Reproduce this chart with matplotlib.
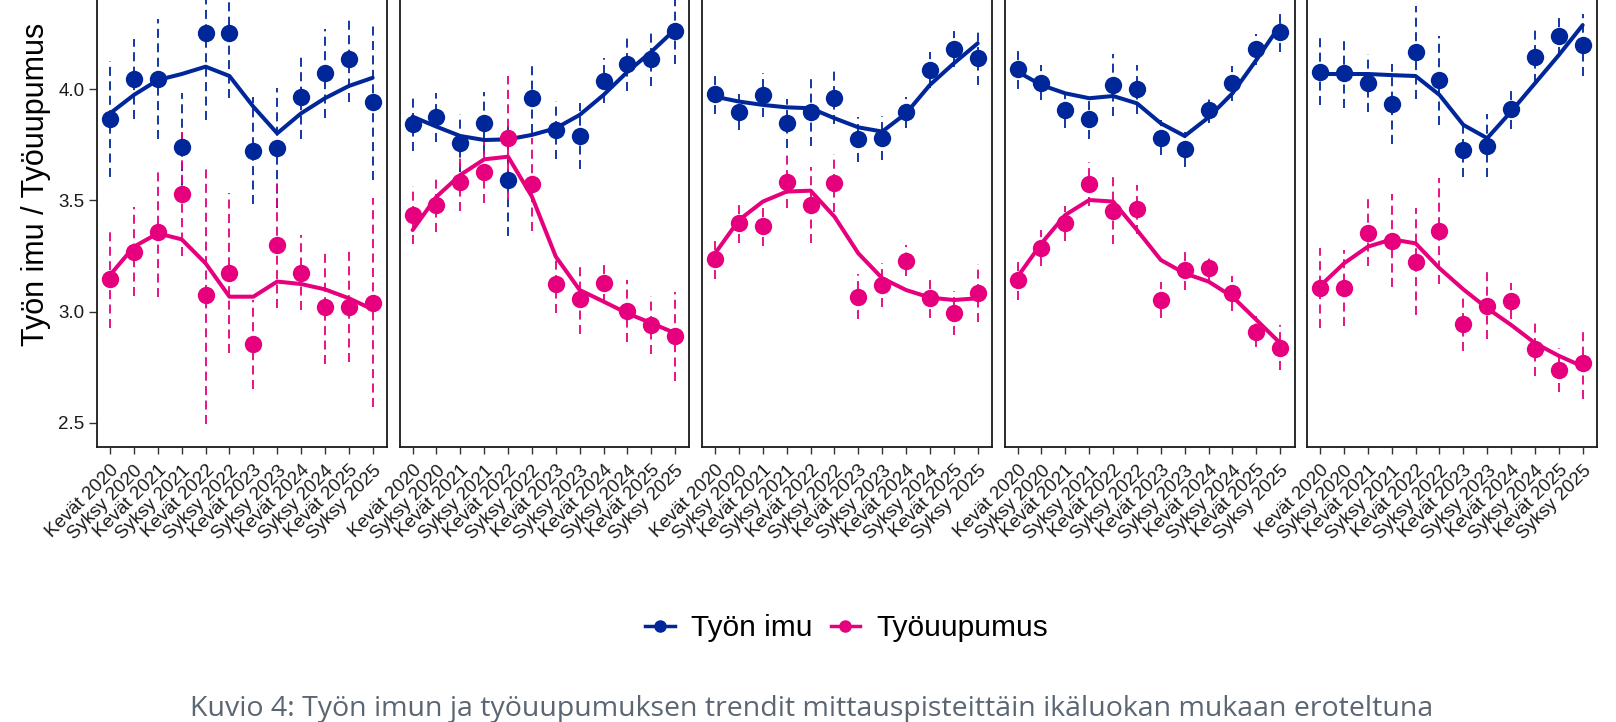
import numpy as np
import matplotlib
matplotlib.use("Agg")
import matplotlib.pyplot as plt
from matplotlib.lines import Line2D

plt.rcParams['font.family'] = ['Liberation Sans', 'DejaVu Sans']

# Mittauspisteet (x-akseli)
periods = ["Kevät 2020", "Syksy 2020", "Kevät 2021", "Syksy 2021",
           "Kevät 2022", "Syksy 2022", "Kevät 2023", "Syksy 2023",
           "Kevät 2024", "Syksy 2024", "Kevät 2025", "Syksy 2025"]

# Työn imu: keskiarvot, luottamusvälin puolileveys ja trendiviiva (5 ikäluokkaa)
imu_mean = [
    [3.867, 4.046, 4.046, 3.742, 4.252, 4.252, 3.724, 3.735, 3.967, 4.072, 4.135, 3.942],
    [3.843, 3.874, 3.757, 3.850, 3.592, 3.963, 3.817, 3.790, 4.039, 4.114, 4.136, 4.262],
    [3.978, 3.897, 3.975, 3.847, 3.897, 3.963, 3.775, 3.780, 3.897, 4.087, 4.181, 4.139],
    [4.090, 4.030, 3.907, 3.867, 4.019, 4.000, 3.783, 3.730, 3.907, 4.027, 4.181, 4.256],
    [4.079, 4.075, 4.027, 3.934, 4.166, 4.040, 3.727, 3.747, 3.912, 4.147, 4.241, 4.199],
]
imu_ci = [
    [0.26, 0.18, 0.27, 0.24, 0.39, 0.29, 0.24, 0.27, 0.19, 0.20, 0.19, 0.35],
    [0.12, 0.11, 0.13, 0.14, 0.25, 0.16, 0.13, 0.15, 0.10, 0.12, 0.12, 0.15],
    [0.09, 0.08, 0.10, 0.11, 0.15, 0.12, 0.10, 0.10, 0.07, 0.08, 0.08, 0.12],
    [0.09, 0.08, 0.08, 0.09, 0.14, 0.11, 0.08, 0.08, 0.06, 0.08, 0.07, 0.09],
    [0.15, 0.16, 0.13, 0.18, 0.21, 0.20, 0.12, 0.14, 0.09, 0.12, 0.09, 0.14],
]
imu_trend = [
    [3.892, 3.975, 4.042, 4.069, 4.102, 4.060, 3.922, 3.802, 3.892, 3.960, 4.015, 4.052],
    [3.877, 3.832, 3.790, 3.772, 3.775, 3.795, 3.825, 3.885, 3.975, 4.079, 4.169, 4.270],
    [3.967, 3.945, 3.930, 3.919, 3.915, 3.870, 3.829, 3.810, 3.892, 4.020, 4.117, 4.207],
    [4.079, 4.019, 3.982, 3.960, 3.970, 3.937, 3.847, 3.790, 3.874, 3.982, 4.132, 4.289],
    [4.069, 4.069, 4.069, 4.064, 4.060, 3.975, 3.840, 3.780, 3.900, 4.027, 4.154, 4.289],
]

# Työuupumus
uup_mean = [
    [3.148, 3.270, 3.357, 3.528, 3.073, 3.172, 2.853, 3.298, 3.175, 3.022, 3.022, 3.040],
    [3.435, 3.480, 3.583, 3.630, 3.780, 3.573, 3.124, 3.057, 3.130, 3.004, 2.940, 2.888],
    [3.235, 3.400, 3.385, 3.585, 3.480, 3.577, 3.067, 3.120, 3.228, 3.063, 2.993, 3.085],
    [3.142, 3.285, 3.397, 3.573, 3.454, 3.460, 3.052, 3.187, 3.195, 3.082, 2.910, 2.838],
    [3.105, 3.105, 3.355, 3.319, 3.225, 3.363, 2.943, 3.027, 3.048, 2.831, 2.738, 2.768],
]
uup_ci = [
    [0.22, 0.20, 0.29, 0.28, 0.58, 0.36, 0.20, 0.28, 0.17, 0.26, 0.25, 0.47],
    [0.13, 0.12, 0.13, 0.14, 0.28, 0.21, 0.13, 0.16, 0.09, 0.14, 0.13, 0.20],
    [0.09, 0.09, 0.09, 0.12, 0.17, 0.13, 0.10, 0.10, 0.07, 0.09, 0.10, 0.13],
    [0.09, 0.08, 0.08, 0.10, 0.15, 0.11, 0.08, 0.09, 0.06, 0.08, 0.07, 0.10],
    [0.18, 0.17, 0.15, 0.21, 0.24, 0.24, 0.12, 0.15, 0.08, 0.12, 0.10, 0.16],
]
uup_trend = [
    [3.165, 3.292, 3.352, 3.325, 3.217, 3.067, 3.067, 3.135, 3.124, 3.100, 3.060, 3.010],
    [3.367, 3.517, 3.615, 3.685, 3.697, 3.517, 3.247, 3.097, 3.045, 2.992, 2.948, 2.903],
    [3.262, 3.412, 3.495, 3.540, 3.544, 3.427, 3.262, 3.150, 3.097, 3.063, 3.052, 3.060],
    [3.157, 3.307, 3.435, 3.502, 3.495, 3.367, 3.232, 3.172, 3.135, 3.067, 2.963, 2.858],
    [3.115, 3.217, 3.292, 3.325, 3.307, 3.195, 3.100, 3.015, 2.940, 2.858, 2.801, 2.753],
]

BLUE = "#00279A"
PINK = "#E6007E"
W, H = 1616, 722

fig = plt.figure(figsize=(W / 100, H / 100), dpi=100)
x = np.arange(1, len(periods) + 1)

for i in range(5):
    left = 97 + i * 302.5
    ax = fig.add_axes([left / W, (H - 446.7) / H, 290 / W, 446.7 / H])
    series = [(imu_mean[i], imu_ci[i], imu_trend[i], BLUE),
              (uup_mean[i], uup_ci[i], uup_trend[i], PINK)]
    # virhepalkit katkoviivoina
    for mean, ci, trend, col in series:
        m = np.array(mean)
        c = np.array(ci)
        ax.vlines(x, m - c, m + c, colors=col, linewidth=1.3,
                  linestyles=(0, (5, 3)), zorder=2)
    for mean, ci, trend, col in series:
        ax.plot(x, trend, color=col, linewidth=2.9, solid_capstyle='round',
                solid_joinstyle='round', zorder=3)
    for mean, ci, trend, col in series:
        ax.plot(x, mean, 'o', color=col, markersize=12.5, markeredgewidth=0, zorder=4)

    ax.set_xlim(0.45, 12.6)
    ax.set_ylim(2.392, 4.402)
    ax.set_xticks(x)
    ax.set_xticklabels(periods, rotation=45, ha='right', rotation_mode='anchor',
                       fontsize=13.5, color='#1a1a1a')
    ax.tick_params(axis='x', length=5, width=1, color='#333333', pad=6)
    ax.set_yticks([2.5, 3.0, 3.5, 4.0])
    if i == 0:
        ax.set_yticklabels(["2.5", "3.0", "3.5", "4.0"], fontsize=13.5, color='#1a1a1a')
        ax.tick_params(axis='y', length=6, width=1, color='#333333', pad=3)
    else:
        ax.tick_params(axis='y', left=False, labelleft=False)
    for side in ['left', 'right', 'bottom']:
        ax.spines[side].set_linewidth(1.3)
        ax.spines[side].set_color('#1a1a1a')
    ax.spines['top'].set_visible(False)

fig.text(36 / W, 1 - 184 / H, "Työn imu / Työuupumus", rotation=90,
         ha='center', va='center', fontsize=22)

handles = [Line2D([], [], color=BLUE, marker='o', markersize=8, linewidth=2.5),
           Line2D([], [], color=PINK, marker='o', markersize=8, linewidth=2.5)]
fig.legend(handles, ["Työn imu", "Työuupumus"], loc='center',
           bbox_to_anchor=(846.7 / W, 1 - 628 / H), ncol=2, frameon=False,
           fontsize=21.5, handlelength=1.0, handletextpad=0.55, columnspacing=0.6)

fig.text(812 / W, 6 / H,
         "Kuvio 4: Työn imun ja työuupumuksen trendit mittauspisteittäin ikäluokan mukaan eroteltuna",
         ha='center', va='baseline', fontsize=20.5, color='#5b6672', family=['Open Sans', 'DejaVu Sans'])

fig.savefig("out.png", dpi=100)
